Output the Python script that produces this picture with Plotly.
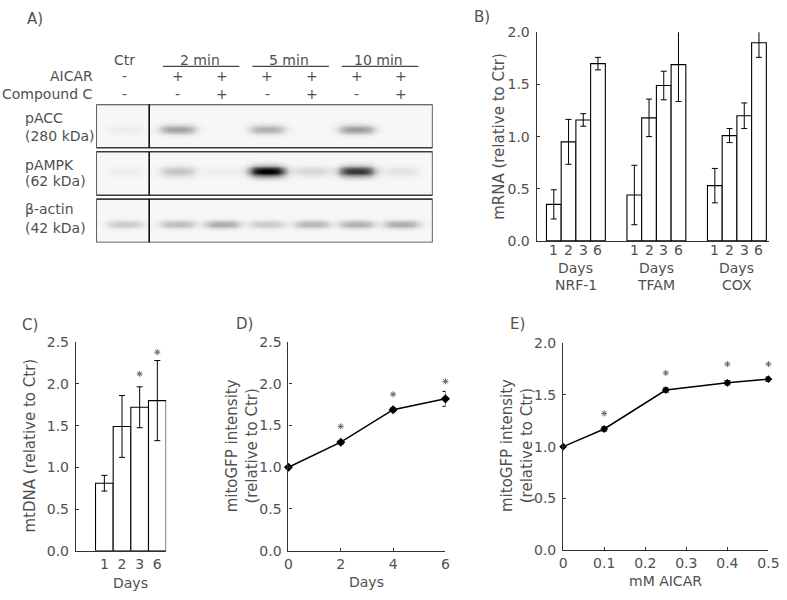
import numpy as np
import plotly.graph_objects as go

# ------------------------------------------------------------------ data
# Panel A (western blot) - band darkness (0 none .. 1 saturated)
blot_lanes = ["Ctr", "2 min -", "2 min +", "5 min -", "5 min +", "10 min -", "10 min +"]
aicar_signs = ["-", "+", "+", "+", "+", "+", "+"]
compound_c_signs = ["-", "-", "+", "-", "+", "-", "+"]
time_groups = ["2 min", "5 min", "10 min"]
blot_proteins = ["pACC", "pAMPK", "β-actin"]
blot_weights = ["(280 kDa)", "(62 kDa)", "(42 kDa)"]
pacc_intensity = [0.04, 0.34, 0.0, 0.28, 0.0, 0.36, 0.0]
pampk_intensity = [0.04, 0.20, 0.04, 1.0, 0.13, 0.78, 0.08]
actin_intensity = [0.18, 0.23, 0.30, 0.18, 0.26, 0.28, 0.30]

# Panel B - mRNA (relative to Ctr)
genes = ["NRF-1", "TFAM", "COX"]
day_labels = ["1", "2", "3", "6"]
nrf1_mean = [0.35, 0.95, 1.16, 1.70]
nrf1_err = [0.14, 0.215, 0.06, 0.06]
tfam_mean = [0.44, 1.18, 1.49, 1.69]
tfam_err = [0.285, 0.18, 0.137, 0.353]
cox_mean = [0.53, 1.01, 1.20, 1.90]
cox_err = [0.165, 0.067, 0.123, 0.14]

# Panel C - mtDNA
mtdna_mean = [0.81, 1.49, 1.72, 1.80]
mtdna_err = [0.094, 0.37, 0.245, 0.48]
mtdna_star_y = [None, None, 2.12, 2.38]

# Panel D - mitoGFP vs days
gfp_days = [0, 2, 4, 6]
gfp_days_mean = [1.0, 1.30, 1.69, 1.82]
gfp_days_err = [0.0, 0.02, 0.02, 0.09]
gfp_days_star_y = [None, 1.49, 1.875, 2.03]

# Panel E - mitoGFP vs AICAR dose
aicar_mM = [0, 0.1, 0.25, 0.4, 0.5]
gfp_aicar_mean = [1.0, 1.17, 1.545, 1.615, 1.65]
gfp_aicar_err = [0.0, 0.02, 0.02, 0.02, 0.02]
gfp_aicar_star_y = [None, 1.32, 1.71, 1.795, 1.795]

# ------------------------------------------------------------------ layout helpers
W, H = 787, 600
FONT = "DejaVu Sans"
TXT = "#505050"
AX = "#333333"
FS = 14


def px(xp):
    return xp / W


def py(yp):
    return 1 - yp / H


fig = go.Figure()
annotations = []
shapes = []


def ann(text, x, y, size=FS, xanchor="center", xref="paper", yref="paper", angle=0):
    annotations.append(dict(text=text, x=x, y=y, xref=xref, yref=yref, showarrow=False,
                            xanchor=xanchor, yanchor="middle", textangle=angle, borderpad=0,
                            font=dict(family=FONT, size=size, color=TXT)))


err_style = dict(type="data", color="black", thickness=1, width=3, visible=True)
bar_style = dict(color="white", line=dict(color="black", width=1.1))
star_marker = dict(symbol="asterisk-open", size=5, color="#666", line=dict(color="#666", width=1))

# ------------------------------------------------------------------ Panel B
GROUP_STEP = 5.47
b_series = [(nrf1_mean, nrf1_err), (tfam_mean, tfam_err), (cox_mean, cox_err)]
for g, (m, e) in enumerate(b_series):
    xs = [g * GROUP_STEP + d + 1 for d in range(len(m))]
    fig.add_trace(go.Bar(x=xs, y=m, width=1, marker=bar_style,
                         error_y=dict(array=e, **err_style),
                         xaxis="x", yaxis="y", cliponaxis=False, hoverinfo="y"))
    for xv, lab in zip(xs, day_labels):
        ann(lab, xv, py(249), xref="x")
    gc = g * GROUP_STEP + 2.5
    ann("Days", gc, py(267), xref="x")
    ann(genes[g], gc, py(285), xref="x")

# ------------------------------------------------------------------ Panel C
c_x = [1, 2, 3, 4]
fig.add_trace(go.Bar(x=c_x, y=mtdna_mean, width=1, marker=bar_style,
                     error_y=dict(array=mtdna_err, **err_style),
                     xaxis="x3", yaxis="y3", cliponaxis=False))
sx = [x for x, s in zip(c_x, mtdna_star_y) if s is not None]
sy = [s for s in mtdna_star_y if s is not None]
fig.add_trace(go.Scatter(x=sx, y=sy, mode="markers", marker=star_marker,
                         xaxis="x3", yaxis="y3", cliponaxis=False))
ann("Days", 2.5, py(591), xref="x3")

# ------------------------------------------------------------------ Panel D
fig.add_trace(go.Scatter(x=gfp_days, y=gfp_days_mean, mode="lines+markers",
                         line=dict(color="black", width=1.5),
                         marker=dict(symbol="diamond", size=7, color="black"),
                         error_y=dict(array=gfp_days_err, **err_style),
                         xaxis="x4", yaxis="y4", cliponaxis=False))
sx = [x for x, s in zip(gfp_days, gfp_days_star_y) if s is not None]
sy = [s for s in gfp_days_star_y if s is not None]
fig.add_trace(go.Scatter(x=sx, y=sy, mode="markers", marker=star_marker,
                         xaxis="x4", yaxis="y4", cliponaxis=False))
ann("Days", 3, py(590), xref="x4")

# ------------------------------------------------------------------ Panel E
fig.add_trace(go.Scatter(x=aicar_mM, y=gfp_aicar_mean, mode="lines+markers",
                         line=dict(color="black", width=1.5),
                         marker=dict(symbol="diamond", size=6, color="black"),
                         error_y=dict(array=gfp_aicar_err, **err_style),
                         xaxis="x5", yaxis="y5", cliponaxis=False))
sx = [x for x, s in zip(aicar_mM, gfp_aicar_star_y) if s is not None]
sy = [s for s in gfp_aicar_star_y if s is not None]
fig.add_trace(go.Scatter(x=sx, y=sy, mode="markers", marker=star_marker,
                         xaxis="x5", yaxis="y5", cliponaxis=False))
ann("mM AICAR", 0.25, py(589), xref="x5")

# ------------------------------------------------------------------ Panel A (blot)
lane_x = [-0.18, 1, 2, 3, 4, 5, 6]
ROW_STEP = 1.09
band_center = [0.575, 0.45, 0.58]
band_sigma = [0.075, 0.085, 0.065]
X0, X1 = -0.82, 6.70
gx = np.arange(X0, X1 + 1e-9, 0.02)
gy = np.arange(0, 2 * ROW_STEP + 1 + 1e-9, 0.02)
Z = np.zeros((gy.size, gx.size))
for r, inten in enumerate([pacc_intensity, pampk_intensity, actin_intensity]):
    top = r * ROW_STEP
    mask = ((gy >= top) & (gy <= top + 1)).astype(float)[:, None]
    Z += 0.03 * mask
    yprof = np.exp(-0.5 * ((gy - (top + band_center[r])) / band_sigma[r]) ** 2)[:, None]
    for i, val in enumerate(inten):
        xprof = 1 / (1 + np.exp((np.abs(gx - lane_x[i]) - 0.36) / 0.07))
        Z += val * yprof * xprof[None, :] * mask
    shapes.append(dict(type="rect", xref="x6", yref="y6", x0=X0, x1=X1, y0=top, y1=top + 1,
                       line=dict(color="#3a3a3a", width=1.6)))
    shapes.append(dict(type="line", xref="x6", yref="y6", x0=0.364, x1=0.364, y0=top, y1=top + 1,
                       line=dict(color="black", width=1.5)))
Z = np.clip(Z, 0, 1).round(3)
fig.add_trace(go.Heatmap(x=gx, y=gy, z=Z, colorscale=[[0, "#ffffff"], [1, "#000000"]],
                         zmin=0, zmax=1, showscale=False, hoverinfo="skip",
                         zsmooth="best", xaxis="x6", yaxis="y6"))

# blot headers
ann("Ctr", lane_x[0], py(53), xref="x6")
for k, name in enumerate(time_groups):
    a, b = 1 + 2 * k, 2 + 2 * k
    ann(name, (lane_x[a] + lane_x[b]) / 2, py(53), xref="x6")
    shapes.append(dict(type="line", xref="x6", yref="paper", x0=lane_x[a] - 0.33, x1=lane_x[b] + 0.38,
                       y0=py(60), y1=py(60), line=dict(color="#444", width=1.2)))
ann("AICAR", px(92), py(70), xanchor="right")
ann("Compound C", px(92), py(88), xanchor="right")
for i in range(len(blot_lanes)):
    ann(aicar_signs[i], lane_x[i], py(70), xref="x6")
    ann(compound_c_signs[i], lane_x[i], py(88), xref="x6")
label_rows = [(113, 131), (161, 178), (207, 226)]
for (y1, y2), prot, kda in zip(label_rows, blot_proteins, blot_weights):
    ann(prot, px(20), py(y1), xanchor="left")
    ann(kda, px(20), py(y2), xanchor="left")

# panel letters and y titles
ann("A)", px(22), py(11), size=15, xanchor="left")
ann("B)", px(478), py(9), size=15, xanchor="left")
ann("C)", px(17), py(326), size=15, xanchor="left")
ann("D)", px(235), py(325), size=15, xanchor="left")
ann("E)", px(515), py(325), size=15, xanchor="left")
ann("mRNA (relative to Ctr)", px(505), py(132), size=15, angle=-90)
ann("mtDNA (relative to Ctr)", px(26), py(450), size=15, angle=-90)
ann("mitoGFP intensity<br>(relative to Ctr)", px(243), py(450), size=15, angle=-90)
ann("mitoGFP intensity<br>(relative to Ctr)", px(523), py(450), size=15, angle=-90)

# ------------------------------------------------------------------ axes
tickfont = dict(family=FONT, size=FS, color=TXT)


def yax(domain, rng, anchor):
    return dict(domain=domain, range=rng, anchor=anchor, dtick=0.5, tickformat=".1f",
                showline=True, linecolor=AX, linewidth=1.2, ticks="inside", ticklen=3,
                tickcolor=AX, showgrid=False, zeroline=False, tickfont=tickfont,
                ticklabelstandoff=3)


def xax(domain, rng, anchor, **kw):
    d = dict(domain=domain, range=rng, anchor=anchor, showline=True, linecolor=AX,
             linewidth=1.2, showgrid=False, zeroline=False, tickfont=tickfont)
    d.update(kw)
    return d


fig.update_layout(
    width=W, height=H, margin=dict(l=0, r=0, t=0, b=0),
    paper_bgcolor="white", plot_bgcolor="white", showlegend=False, barmode="overlay",
    xaxis=xax([px(543), px(780)], [-0.167, 15.63], "y", showticklabels=False, ticks=""),
    yaxis=yax([py(239.3), py(25)], [0, 2.0], "x"),
    xaxis3=xax([px(73.3), px(165.3)], [-0.611, 4.5], "y3", tickmode="array",
               tickvals=c_x, ticktext=day_labels, ticks=""),
    yaxis3=yax([py(557.7), py(343.3)], [0, 2.5], "x3"),
    xaxis4=xax([px(290), px(450)], [0, 6], "y4", tickmode="array", tickvals=gfp_days,
               ticktext=[str(d) for d in gfp_days], ticks="inside", ticklen=3, tickcolor=AX),
    yaxis4=yax([py(557.5), py(343.3)], [0, 2.5], "x4"),
    xaxis5=xax([px(570), px(779.3)], [0, 0.5], "y5", tickmode="array",
               tickvals=[0, 0.1, 0.2, 0.3, 0.4, 0.5],
               ticktext=["0", "0.1", "0.2", "0.3", "0.4", "0.5"],
               ticks="inside", ticklen=3, tickcolor=AX),
    yaxis5=yax([py(557.3), py(344)], [0, 2.0], "x5"),
    xaxis6=dict(domain=[px(94), px(437)], range=[X0, X1], anchor="y6", visible=False),
    yaxis6=dict(domain=[py(241), py(99)], range=[2 * ROW_STEP + 1, 0], anchor="x6", visible=False),
    annotations=annotations, shapes=shapes,
)

fig.write_html("out.html", config={"displayModeBar": False},
               post_script="document.body.style.margin='0px';")
